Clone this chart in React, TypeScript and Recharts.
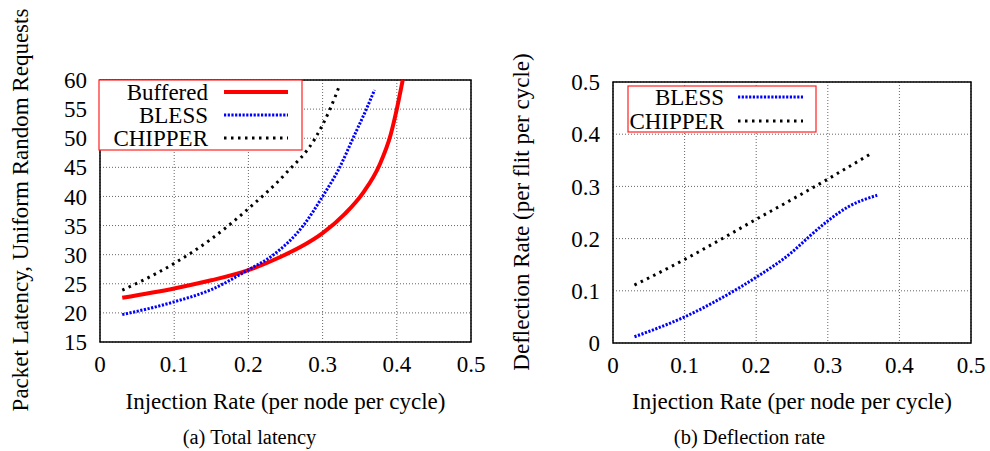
import { CartesianGrid, Line, LineChart, ReferenceArea, XAxis, YAxis } from "recharts";

// (a) total latency — injection rate vs packet latency
const bufferedX = [0.03, 0.1, 0.15, 0.2, 0.243, 0.27, 0.3, 0.33, 0.355, 0.377, 0.3915, 0.4, 0.408];
const bufferedY = [22.6, 24.2, 25.6, 27.35, 29.6, 31.3, 33.7, 37.0, 40.7, 45.5, 50.5, 55, 60];
const blessLatX = [0.03, 0.1, 0.15, 0.2, 0.234, 0.274, 0.3, 0.323, 0.341, 0.359, 0.37];
const blessLatY = [19.7, 21.9, 24.0, 27.4, 30, 35, 40, 45, 50, 55, 58.3];
const chipperLatX = [0.03, 0.05, 0.1, 0.15, 0.2, 0.25, 0.29, 0.31, 0.3235];
const chipperLatY = [23.9, 25.1, 28.5, 32.7, 37.9, 43.9, 50, 55, 59.3];

// (b) deflection rate
const blessDefX = [0.03, 0.05, 0.1, 0.15, 0.2, 0.25, 0.275, 0.3, 0.33, 0.369];
const blessDefY = [0.012, 0.022, 0.05, 0.085, 0.126, 0.174, 0.205, 0.234, 0.262, 0.283];
const chipperDefX = [0.03, 0.1, 0.15, 0.2, 0.25, 0.3, 0.363];
const chipperDefY = [0.111, 0.16, 0.198, 0.237, 0.275, 0.314, 0.365];

const xTicks = [0, 0.1, 0.2, 0.3, 0.4, 0.5];
const latencyTicks = [15, 20, 25, 30, 35, 40, 45, 50, 55, 60];
const deflectionTicks = [0, 0.1, 0.2, 0.3, 0.4, 0.5];

const FONT = '"Liberation Serif", "Times New Roman", Times, serif';

const STYLES = {
	Buffered: { stroke: "#ff0000", strokeWidth: 4, dash: undefined as string | undefined },
	BLESS: { stroke: "#0000ff", strokeWidth: 3, dash: "2.2 1.5" },
	CHIPPER: { stroke: "#000000", strokeWidth: 3, dash: "2.5 4.5" },
};

type SeriesName = keyof typeof STYLES;

const zip = (xs: number[], ys: number[]) => xs.map((x, i) => ({ x, y: ys[i] }));

const tickStyle = { fill: "#000", fontSize: 23, fontFamily: FONT, style: { fontFamily: FONT } };

function Panel({
	series,
	yDomain,
	yTicks,
	margin,
}: {
	series: { name: SeriesName; data: { x: number; y: number }[] }[];
	yDomain: [number, number];
	yTicks: number[];
	margin: { top: number; right: number; bottom: number; left: number };
}) {
	return (
		<LineChart width={490} height={451} margin={margin} style={{ fontFamily: FONT }}>
			<CartesianGrid stroke="#666" strokeDasharray="1 2" strokeWidth={1} />
			<XAxis
				type="number"
				dataKey="x"
				domain={[0, 0.5]}
				ticks={xTicks}
				interval={0}
				tick={tickStyle}
				tickLine={false}
				axisLine={false}
				tickSize={6}
				tickMargin={8}
				height={30}
				allowDataOverflow
			/>
			<YAxis
				type="number"
				domain={yDomain}
				ticks={yTicks}
				interval={0}
				tick={tickStyle}
				tickLine={false}
				axisLine={false}
				tickSize={6}
				tickMargin={7}
				width={60}
				allowDataOverflow
			/>
			<ReferenceArea
				x1={0}
				x2={0.5}
				y1={yDomain[0]}
				y2={yDomain[1]}
				fill="none"
				stroke="#000"
				strokeWidth={1.5}
			/>
			{series.map((s) => (
				<Line
					key={s.name}
					data={s.data}
					dataKey="y"
					type="monotone"
					stroke={STYLES[s.name].stroke}
					strokeWidth={STYLES[s.name].strokeWidth}
					strokeDasharray={STYLES[s.name].dash}
					dot={false}
					activeDot={false}
					isAnimationActive={false}
				/>
			))}
		</LineChart>
	);
}

function LegendBox({
	names,
	left,
	top,
	width,
	textRight,
	lineX1,
	lineX2,
	rowGap,
	firstRow,
}: {
	names: SeriesName[];
	left: number;
	top: number;
	width: number;
	textRight: number;
	lineX1: number;
	lineX2: number;
	rowGap: number;
	firstRow: number;
}) {
	const height = firstRow * 2 + rowGap * (names.length - 1);
	return (
		<svg
			width={width + 2}
			height={height + 2}
			style={{ position: "absolute", left, top }}
		>
			<rect x={1} y={1} width={width} height={height} fill="#fff" stroke="#ff2020" strokeWidth={1.2} />
			{names.map((n, i) => {
				const y = 1 + firstRow + i * rowGap;
				const st = STYLES[n];
				return (
					<g key={n}>
						<text
							x={textRight}
							y={y}
							textAnchor="end"
							dominantBaseline="central"
							style={{ fontFamily: FONT, fontSize: 23 }}
							fill="#000"
						>
							{n}
						</text>
						<line
							x1={lineX1}
							x2={lineX2}
							y1={y}
							y2={y}
							stroke={st.stroke}
							strokeWidth={st.strokeWidth}
							strokeDasharray={st.dash}
						/>
					</g>
				);
			})}
		</svg>
	);
}

const textBase: React.CSSProperties = {
	position: "absolute",
	fontFamily: FONT,
	color: "#000",
	whiteSpace: "nowrap",
	lineHeight: 1,
};

function Label({ text, x, y, size, rotate }: { text: string; x: number; y: number; size: number; rotate?: boolean }) {
	return (
		<div
			style={{
				...textBase,
				left: x,
				top: y,
				fontSize: size,
				transform: `translate(-50%, -50%)${rotate ? " rotate(-90deg)" : ""}`,
			}}
		>
			{text}
		</div>
	);
}

export default function App() {
	return (
		<div
			style={{
				position: "absolute",
				left: 0,
				top: 0,
				width: 990,
				height: 451,
				background: "#fff",
				overflow: "hidden",
				fontFamily: FONT,
			}}
		>
			<div style={{ position: "absolute", left: 0, top: 0 }}>
				<Panel
					series={[
						{ name: "Buffered", data: zip(bufferedX, bufferedY) },
						{ name: "BLESS", data: zip(blessLatX, blessLatY) },
						{ name: "CHIPPER", data: zip(chipperLatX, chipperLatY) },
					]}
					yDomain={[15, 60]}
					yTicks={latencyTicks}
					margin={{ top: 80, right: 19, bottom: 79, left: 40 }}
				/>
			</div>
			<div style={{ position: "absolute", left: 500, top: 0 }}>
				<Panel
					series={[
						{ name: "BLESS", data: zip(blessDefX, blessDefY) },
						{ name: "CHIPPER", data: zip(chipperDefX, chipperDefY) },
					]}
					yDomain={[0, 0.5]}
					yTicks={deflectionTicks}
					margin={{ top: 82, right: 19, bottom: 78, left: 53 }}
				/>
			</div>

			<LegendBox
				names={["Buffered", "BLESS", "CHIPPER"]}
				left={98}
				top={79}
				width={203}
				textRight={110}
				lineX1={126}
				lineX2={190}
				rowGap={23}
				firstRow={12}
			/>
			<LegendBox
				names={["BLESS", "CHIPPER"]}
				left={627}
				top={85}
				width={188}
				textRight={97}
				lineX1={111}
				lineX2={176}
				rowGap={24}
				firstRow={11}
			/>

			<Label text="Packet Latency, Uniform Random Requests" x={20} y={210} size={23} rotate />
			<Label text="Deflection Rate (per flit per cycle)" x={521} y={212} size={23} rotate />
			<Label text="Injection Rate (per node per cycle)" x={285.5} y={401} size={23} />
			<Label text="Injection Rate (per node per cycle)" x={792} y={401} size={23} />
			<Label text="(a) Total latency" x={249.5} y={437} size={20.5} />
			<Label text="(b) Deflection rate" x={749.5} y={437} size={20.5} />
		</div>
	);
}
